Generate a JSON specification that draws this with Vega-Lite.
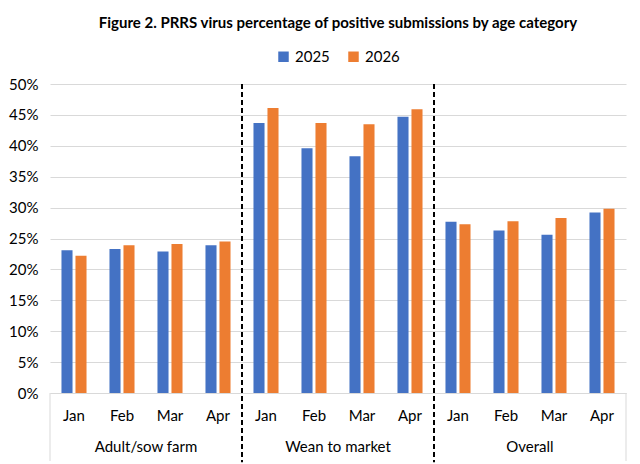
{
  "$schema": "https://vega.github.io/schema/vega-lite/v6.json",
  "padding": {"left": 8, "right": 10, "top": 16, "bottom": 0},
  "width": 576,
  "height": 309,
  "title": {"text": "Figure 2. PRRS virus percentage of positive submissions by age category", "font": "Lato", "fontSize": 15, "fontWeight": "bold", "color": "#000000", "anchor": "middle", "offset": 18},
  "data": {"values": [
    {"group": "Adult/sow farm", "month": "Jan", "year": "2025", "value": 0.231},
    {"group": "Adult/sow farm", "month": "Jan", "year": "2026", "value": 0.222},
    {"group": "Adult/sow farm", "month": "Feb", "year": "2025", "value": 0.233},
    {"group": "Adult/sow farm", "month": "Feb", "year": "2026", "value": 0.239},
    {"group": "Adult/sow farm", "month": "Mar", "year": "2025", "value": 0.229},
    {"group": "Adult/sow farm", "month": "Mar", "year": "2026", "value": 0.241},
    {"group": "Adult/sow farm", "month": "Apr", "year": "2025", "value": 0.239},
    {"group": "Adult/sow farm", "month": "Apr", "year": "2026", "value": 0.245},
    {"group": "Wean to market", "month": "Jan", "year": "2025", "value": 0.437},
    {"group": "Wean to market", "month": "Jan", "year": "2026", "value": 0.461},
    {"group": "Wean to market", "month": "Feb", "year": "2025", "value": 0.396},
    {"group": "Wean to market", "month": "Feb", "year": "2026", "value": 0.437},
    {"group": "Wean to market", "month": "Mar", "year": "2025", "value": 0.383},
    {"group": "Wean to market", "month": "Mar", "year": "2026", "value": 0.435},
    {"group": "Wean to market", "month": "Apr", "year": "2025", "value": 0.447},
    {"group": "Wean to market", "month": "Apr", "year": "2026", "value": 0.459},
    {"group": "Overall", "month": "Jan", "year": "2025", "value": 0.277},
    {"group": "Overall", "month": "Jan", "year": "2026", "value": 0.273},
    {"group": "Overall", "month": "Feb", "year": "2025", "value": 0.263},
    {"group": "Overall", "month": "Feb", "year": "2026", "value": 0.278},
    {"group": "Overall", "month": "Mar", "year": "2025", "value": 0.256},
    {"group": "Overall", "month": "Mar", "year": "2026", "value": 0.283},
    {"group": "Overall", "month": "Apr", "year": "2025", "value": 0.292},
    {"group": "Overall", "month": "Apr", "year": "2026", "value": 0.298}
  ]},
  "transform": [{"calculate": "datum.group + '|' + datum.month", "as": "key"}],
  "layer": [
    {
      "mark": {"type": "bar"},
      "encoding": {
        "x": {"field": "key", "type": "nominal", "title": null,
              "scale": {"domain": ["Adult/sow farm|Jan", "Adult/sow farm|Feb", "Adult/sow farm|Mar", "Adult/sow farm|Apr", "Wean to market|Jan", "Wean to market|Feb", "Wean to market|Mar", "Wean to market|Apr", "Overall|Jan", "Overall|Feb", "Overall|Mar", "Overall|Apr"], "paddingInner": 0, "paddingOuter": 0},
              "axis": {"ticks": false, "domainColor": "#d9d9d9", "labelAngle": 0, "labelFont": "Lato", "labelFontSize": 15, "labelColor": "#000000", "labelPadding": 15, "labelExpr": "split(datum.value, '|')[1]"}},
        "xOffset": {"field": "year", "type": "nominal", "scale": {"paddingInner": 0.21, "paddingOuter": 0.82}},
        "y": {"field": "value", "type": "quantitative", "title": null,
              "scale": {"domain": [0, 0.5], "nice": false},
              "axis": {"values": [0, 0.05, 0.1, 0.15, 0.2, 0.25, 0.3, 0.35, 0.4, 0.45, 0.5], "format": ".0%", "labelOverlap": false, "domain": false, "ticks": false, "gridColor": "#d9d9d9", "labelFont": "Lato", "labelFontSize": 15, "labelColor": "#000000", "labelPadding": 12}},
        "color": {"field": "year", "type": "nominal", "title": null,
                  "scale": {"domain": ["2025", "2026"], "range": ["#4472C4", "#ED7D31"]},
                  "legend": {"orient": "top", "direction": "horizontal", "symbolType": "square", "symbolSize": 110, "labelFont": "Lato", "labelFontSize": 15, "labelColor": "#000000", "columnPadding": 16, "offset": 19}}
      }
    },
    {
      "transform": [{"filter": "datum.month == 'Feb' && datum.year == '2025'"}],
      "mark": {"type": "text", "font": "Lato", "fontSize": 15, "color": "#000000", "baseline": "middle", "align": "center"},
      "encoding": {
        "x": {"field": "key", "type": "nominal", "bandPosition": 1},
        "y": {"datum": -0.088, "type": "quantitative", "title": null, "scale": {"domain": [0, 0.5], "nice": false},
              "axis": {"values": [0, 0.05, 0.1, 0.15, 0.2, 0.25, 0.3, 0.35, 0.4, 0.45, 0.5], "format": ".0%", "labelOverlap": false, "domain": false, "ticks": false, "gridColor": "#d9d9d9", "labelFont": "Lato", "labelFontSize": 15, "labelColor": "#000000", "labelPadding": 12}},
        "text": {"field": "group"}
      }
    },
    {
      "transform": [{"filter": "datum.month == 'Jan' && datum.year == '2025' && datum.group != 'Adult/sow farm'"}],
      "mark": {"type": "rule", "strokeDash": [5, 3], "strokeWidth": 2, "color": "#000000"},
      "encoding": {
        "x": {"field": "key", "type": "nominal", "bandPosition": 0},
        "y": {"datum": 0.5, "type": "quantitative", "title": null, "scale": {"domain": [0, 0.5], "nice": false},
              "axis": {"values": [0, 0.05, 0.1, 0.15, 0.2, 0.25, 0.3, 0.35, 0.4, 0.45, 0.5], "format": ".0%", "labelOverlap": false, "domain": false, "ticks": false, "gridColor": "#d9d9d9", "labelFont": "Lato", "labelFontSize": 15, "labelColor": "#000000", "labelPadding": 12}},
        "y2": {"datum": -0.112}
      }
    },
    {
      "transform": [{"filter": "datum.month == 'Jan' && datum.year == '2025' && datum.group == 'Adult/sow farm'"}],
      "mark": {"type": "rule", "strokeWidth": 1, "color": "#d9d9d9"},
      "encoding": {
        "x": {"field": "key", "type": "nominal", "bandPosition": 0},
        "y": {"datum": 0, "type": "quantitative", "title": null, "scale": {"domain": [0, 0.5], "nice": false},
              "axis": {"values": [0, 0.05, 0.1, 0.15, 0.2, 0.25, 0.3, 0.35, 0.4, 0.45, 0.5], "format": ".0%", "labelOverlap": false, "domain": false, "ticks": false, "gridColor": "#d9d9d9", "labelFont": "Lato", "labelFontSize": 15, "labelColor": "#000000", "labelPadding": 12}},
        "y2": {"datum": -0.11}
      }
    },
    {
      "transform": [{"filter": "datum.month == 'Apr' && datum.year == '2025' && datum.group == 'Overall'"}],
      "mark": {"type": "rule", "strokeWidth": 1, "color": "#d9d9d9"},
      "encoding": {
        "x": {"field": "key", "type": "nominal", "bandPosition": 1},
        "y": {"datum": 0, "type": "quantitative", "title": null, "scale": {"domain": [0, 0.5], "nice": false},
              "axis": {"values": [0, 0.05, 0.1, 0.15, 0.2, 0.25, 0.3, 0.35, 0.4, 0.45, 0.5], "format": ".0%", "labelOverlap": false, "domain": false, "ticks": false, "gridColor": "#d9d9d9", "labelFont": "Lato", "labelFontSize": 15, "labelColor": "#000000", "labelPadding": 12}},
        "y2": {"datum": -0.11}
      }
    }
  ],
  "config": {
    "view": {"stroke": null},
    "legend": {"layout": {"top": {"anchor": "middle"}}}
  }
}
